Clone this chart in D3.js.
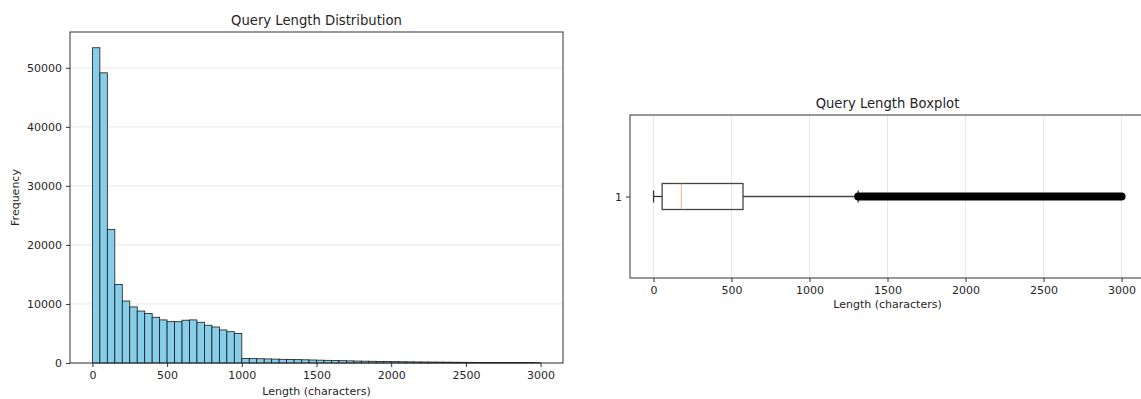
<!DOCTYPE html>
<html>
<head>
<meta charset="utf-8">
<script src="https://cdn.jsdelivr.net/npm/d3@7"></script>
<style>
  html, body { margin: 0; padding: 0; background: #fff; }
  svg { display: block; font-family: "DejaVu Sans", sans-serif; }
</style>
</head>
<body>
<svg id="chart" width="1141" height="399"></svg>
<script>
// ---------- data ----------
const histTitle = "Query Length Distribution";
const boxTitle = "Query Length Boxplot";
const xLabel = "Length (characters)";
const yLabel = "Frequency";
const binWidth = 50;
const binCounts = [
  53400, 49150, 22600, 13300, 10500, 9500, 8800, 8400, 7750, 7300,
  7000, 7000, 7250, 7300, 6900, 6400, 6100, 5600, 5300, 5000,
  760, 740, 720, 690, 660, 630, 600, 570, 540, 510,
  480, 450, 420, 390, 360, 330, 310, 290, 270, 250,
  230, 210, 195, 180, 170, 160, 150, 140, 130, 120,
  110, 105, 100, 95, 90, 85, 80, 75, 70, 65
];
const xTicks = [0, 500, 1000, 1500, 2000, 2500, 3000];
const yTicks = [0, 10000, 20000, 30000, 40000, 50000];
const boxCategories = ["1"];
const boxStats = { min: 1, q1: 56, median: 179, q3: 574, whiskerHi: 1312 };
const outlierRange = [1312, 3000];

// ---------- layout ----------
const svg = d3.select("#chart");
const txt = "#262626";

// Histogram
const H = { left: 70, right: 563, top: 32, bottom: 363 };
const hx = d3.scaleLinear().domain([-150, 3150]).range([H.left, H.right]);
const yMax = d3.max(binCounts) * 1.05;
const hy = d3.scaleLinear().domain([0, yMax]).range([H.bottom, H.top]);

const gh = svg.append("g");
gh.append("g").selectAll("line").data(yTicks).join("line")
  .attr("x1", H.left).attr("x2", H.right)
  .attr("y1", d => hy(d)).attr("y2", d => hy(d))
  .attr("stroke", "#b0b0b0").attr("stroke-opacity", 0.3).attr("stroke-width", 1);

gh.append("g").selectAll("rect").data(binCounts).join("rect")
  .attr("x", (d, i) => hx(i * binWidth))
  .attr("width", (d, i) => hx((i + 1) * binWidth) - hx(i * binWidth))
  .attr("y", d => hy(d))
  .attr("height", d => hy(0) - hy(d))
  .attr("fill", "#87ceeb")
  .attr("stroke", "#1a1a1a").attr("stroke-width", 0.8);

gh.append("rect").attr("x", H.left).attr("y", H.top)
  .attr("width", H.right - H.left).attr("height", H.bottom - H.top)
  .attr("fill", "none").attr("stroke", "#333").attr("stroke-width", 1);

const hxAxis = d3.axisBottom(hx).tickValues(xTicks).tickFormat(d3.format("d")).tickSize(4).tickPadding(4);
const hyAxis = d3.axisLeft(hy).tickValues(yTicks).tickFormat(d3.format("d")).tickSize(4).tickPadding(4);
const gxa = gh.append("g").attr("transform", `translate(0,${H.bottom})`).call(hxAxis);
const gya = gh.append("g").attr("transform", `translate(${H.left},0)`).call(hyAxis);
[gxa, gya].forEach(g => {
  g.select(".domain").remove();
  g.selectAll("line").attr("stroke", "#333");
  g.selectAll("text").attr("fill", txt).style("font-size", "11px").style("font-family", "DejaVu Sans");
});

gh.append("text").attr("x", (H.left + H.right) / 2).attr("y", H.top - 7)
  .attr("text-anchor", "middle").attr("fill", txt).style("font-size", "13.2px").text(histTitle);
gh.append("text").attr("x", (H.left + H.right) / 2).attr("y", 395)
  .attr("text-anchor", "middle").attr("fill", txt).style("font-size", "11px").text(xLabel);
gh.append("text").attr("transform", `translate(19,${(H.top + H.bottom) / 2}) rotate(-90)`)
  .attr("text-anchor", "middle").attr("fill", txt).style("font-size", "11px").text(yLabel);

// Boxplot
const B = { left: 630, right: 1145, top: 115, bottom: 278 };
const bx = d3.scaleLinear().domain([-150, 3150]).range([B.left, B.right]);
const by = d3.scalePoint().domain(boxCategories).range([B.top, B.bottom]).padding(0.5);
const boxHalf = 13;
const gb = svg.append("g");

gb.append("g").selectAll("line").data(xTicks).join("line")
  .attr("x1", d => bx(d)).attr("x2", d => bx(d))
  .attr("y1", B.top).attr("y2", B.bottom)
  .attr("stroke", "#b0b0b0").attr("stroke-opacity", 0.3).attr("stroke-width", 1);

const cy = by("1");
gb.append("line").attr("x1", bx(boxStats.min)).attr("x2", bx(boxStats.q1))
  .attr("y1", cy).attr("y2", cy).attr("stroke", "#333").attr("stroke-width", 1.3);
gb.append("line").attr("x1", bx(boxStats.q3)).attr("x2", bx(boxStats.whiskerHi))
  .attr("y1", cy).attr("y2", cy).attr("stroke", "#444").attr("stroke-width", 1.6);
gb.append("line").attr("x1", bx(boxStats.min)).attr("x2", bx(boxStats.min))
  .attr("y1", cy - 6).attr("y2", cy + 6).attr("stroke", "#333").attr("stroke-width", 1.3);
gb.append("line").attr("x1", bx(boxStats.whiskerHi)).attr("x2", bx(boxStats.whiskerHi))
  .attr("y1", cy - 6).attr("y2", cy + 6).attr("stroke", "#333").attr("stroke-width", 1.3);
gb.append("rect").attr("x", bx(boxStats.q1)).attr("y", cy - boxHalf)
  .attr("width", bx(boxStats.q3) - bx(boxStats.q1)).attr("height", boxHalf * 2)
  .attr("fill", "none").attr("stroke", "#444").attr("stroke-width", 1.3);
gb.append("line").attr("x1", bx(boxStats.median)).attr("x2", bx(boxStats.median))
  .attr("y1", cy - boxHalf).attr("y2", cy + boxHalf)
  .attr("stroke", "#ff7f0e").attr("stroke-opacity", 0.6).attr("stroke-width", 1);
gb.append("line").attr("x1", bx(outlierRange[0])).attr("x2", bx(outlierRange[1]))
  .attr("y1", cy).attr("y2", cy)
  .attr("stroke", "#000").attr("stroke-width", 8).attr("stroke-linecap", "round");

gb.append("rect").attr("x", B.left).attr("y", B.top)
  .attr("width", B.right - B.left).attr("height", B.bottom - B.top)
  .attr("fill", "none").attr("stroke", "#333").attr("stroke-width", 1);

const bxAxis = d3.axisBottom(bx).tickValues(xTicks).tickFormat(d3.format("d")).tickSize(4).tickPadding(4);
const byAxis = d3.axisLeft(by).tickSize(4).tickPadding(4);
const gbx = gb.append("g").attr("transform", `translate(0,${B.bottom})`).call(bxAxis);
const gby = gb.append("g").attr("transform", `translate(${B.left},0)`).call(byAxis);
[gbx, gby].forEach(g => {
  g.select(".domain").remove();
  g.selectAll("line").attr("stroke", "#333");
  g.selectAll("text").attr("fill", txt).style("font-size", "11px").style("font-family", "DejaVu Sans");
});
gb.append("text").attr("x", (B.left + B.right) / 2).attr("y", B.top - 7)
  .attr("text-anchor", "middle").attr("fill", txt).style("font-size", "13.2px").text(boxTitle);
gb.append("text").attr("x", (B.left + B.right) / 2).attr("y", 308)
  .attr("text-anchor", "middle").attr("fill", txt).style("font-size", "11px").text(xLabel);
</script>
</body>
</html>
